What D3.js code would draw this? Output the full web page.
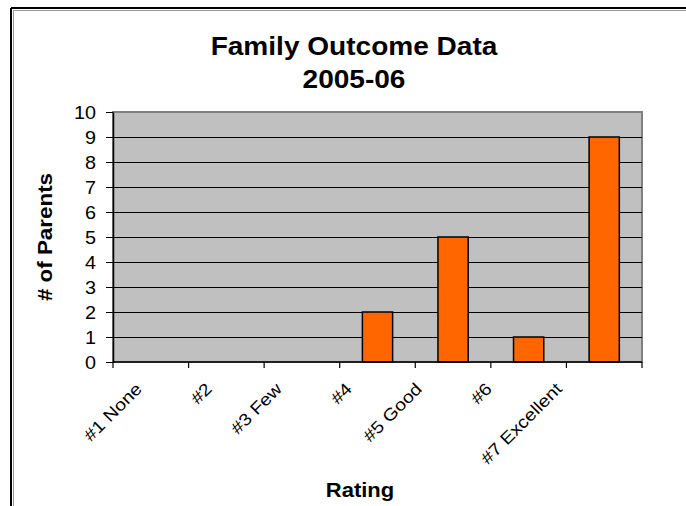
<!DOCTYPE html>
<html>
<head>
<meta charset="utf-8">
<script src="https://cdn.jsdelivr.net/npm/d3@7"></script>
<style>
  html, body { margin: 0; padding: 0; background: #fff; }
  svg { display: block; font-family: "Liberation Sans", Arial, sans-serif; }
</style>
</head>
<body>
<svg id="chart" width="686" height="506"></svg>
<script>
// Ratings and number of parents per rating
const categories = ["#1 None", "#2", "#3 Few", "#4", "#5 Good", "#6", "#7 Excellent"];
const parents = [0, 0, 0, 2, 5, 1, 9];
const yTicks = [0, 1, 2, 3, 4, 5, 6, 7, 8, 9, 10];
const titleLines = ["Family Outcome Data", "2005-06"];
const xTitle = "Rating";
const yTitle = "# of Parents";

const svg = d3.select("#chart");
const W = 686, H = 506;
const plot = { left: 113, right: 642, top: 112, bottom: 362 };

// outer frame (top and left edges)
svg.append("line").attr("x1", 11).attr("x2", W).attr("y1", 8).attr("y2", 8)
  .attr("stroke", "#000").attr("stroke-width", 2);
svg.append("line").attr("x1", 11).attr("x2", 11).attr("y1", 8).attr("y2", H)
  .attr("stroke", "#000").attr("stroke-width", 2);
svg.append("line").attr("x1", 13).attr("x2", W).attr("y1", 10.5).attr("y2", 10.5)
  .attr("stroke", "#999").attr("stroke-width", 1);
svg.append("line").attr("x1", 13.5).attr("x2", 13.5).attr("y1", 10).attr("y2", H)
  .attr("stroke", "#999").attr("stroke-width", 1);

const x = d3.scaleBand().domain(categories).range([plot.left, plot.right]).paddingInner(0).paddingOuter(0);
const y = d3.scaleLinear().domain([0, 10]).range([plot.bottom, plot.top]);
// label anchor positions along the category axis
const xLab = d3.scalePoint().domain(categories).range([143, 563]);

// plot background
svg.append("rect")
  .attr("x", plot.left).attr("y", plot.top)
  .attr("width", plot.right - plot.left).attr("height", plot.bottom - plot.top)
  .attr("fill", "#c0c0c0").attr("stroke", "#808080").attr("stroke-width", 2);

// horizontal gridlines
svg.append("g").selectAll("line").data(yTicks.filter(d => d > 0 && d < 10)).join("line")
  .attr("x1", plot.left).attr("x2", plot.right)
  .attr("y1", d => Math.round(y(d)) + 0.5).attr("y2", d => Math.round(y(d)) + 0.5)
  .attr("stroke", "#000").attr("stroke-width", 1);

// bars
svg.append("g").selectAll("rect").data(categories.map((c, i) => ({ c, v: parents[i] })).filter(d => d.v > 0)).join("rect")
  .attr("x", d => x(d.c) + x.bandwidth() * 0.3)
  .attr("width", x.bandwidth() * 0.4)
  .attr("y", d => y(d.v))
  .attr("height", d => y(0) - y(d.v))
  .attr("fill", "#ff6600").attr("stroke", "#000").attr("stroke-width", 1.5);

// y axis
const yAxis = svg.append("g").attr("transform", `translate(${plot.left},0)`)
  .call(d3.axisLeft(y).tickValues(yTicks).tickSize(7).tickPadding(10).tickSizeOuter(0));
yAxis.select(".domain").attr("stroke", "#000").attr("stroke-width", 1.5);
yAxis.selectAll(".tick line").attr("stroke", "#000");
yAxis.selectAll(".tick text")
  .attr("font-size", 18).attr("fill", "#000")
  .attr("font-family", "Liberation Sans, Arial, sans-serif")
  .attr("dy", "0.36em")
  .attr("transform", function () {
    const tx = +d3.select(this).attr("x");
    return `translate(${tx},0) scale(1.1,1) translate(${-tx},0)`;
  });

// x axis line and boundary ticks
const bounds = categories.map(c => x(c)).concat([plot.right]);
svg.append("line").attr("x1", plot.left).attr("x2", plot.right)
  .attr("y1", plot.bottom).attr("y2", plot.bottom).attr("stroke", "#000").attr("stroke-width", 1.5);
svg.append("g").selectAll("line").data(bounds).join("line")
  .attr("x1", d => d).attr("x2", d => d)
  .attr("y1", plot.bottom).attr("y2", plot.bottom + 6)
  .attr("stroke", "#000").attr("stroke-width", 1.2);

// category labels, rotated
svg.append("g").selectAll("text").data(categories).join("text")
  .attr("transform", d => `translate(${xLab(d)},${plot.bottom + 28}) rotate(-45) scale(1.15,1)`)
  .attr("text-anchor", "end")
  .attr("font-size", 17)
  .attr("fill", "#000")
  .text(d => d);

// titles
svg.append("g").selectAll("text").data(titleLines).join("text")
  .attr("transform", (d, i) => `translate(354,${55 + i * 33}) scale(1.1,1)`)
  .attr("text-anchor", "middle")
  .attr("font-size", 25.5).attr("font-weight", "bold").attr("fill", "#000")
  .text(d => d);

svg.append("text")
  .attr("transform", `translate(360,497) scale(1.1,1)`)
  .attr("text-anchor", "middle")
  .attr("font-size", 20).attr("font-weight", "bold").attr("fill", "#000")
  .text(xTitle);

svg.append("text")
  .attr("transform", `translate(52,${(plot.top + plot.bottom) / 2}) rotate(-90) scale(1.12,1)`)
  .attr("text-anchor", "middle")
  .attr("font-size", 20).attr("font-weight", "bold").attr("fill", "#000")
  .text(yTitle);
</script>
</body>
</html>
